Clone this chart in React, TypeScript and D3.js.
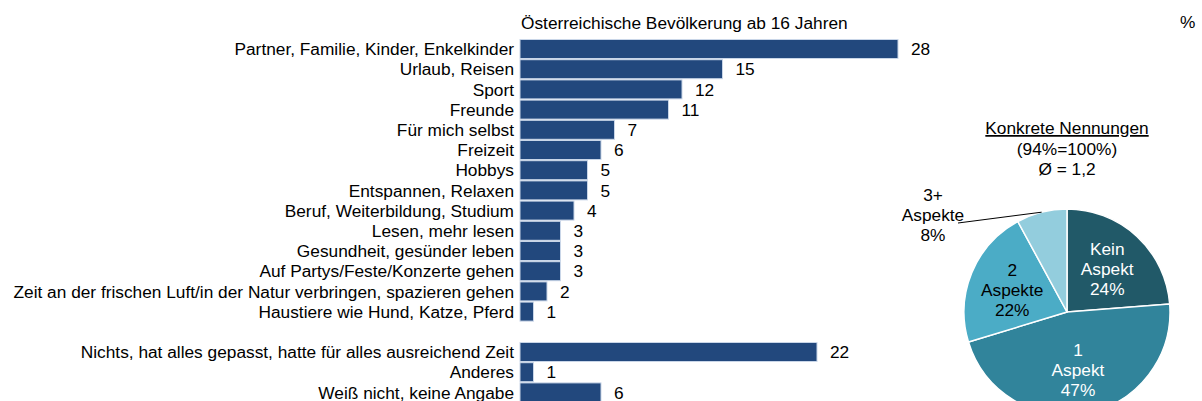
import React from "react";
import * as d3 from "d3";

const mainCategories = [
  "Partner, Familie, Kinder, Enkelkinder",
  "Urlaub, Reisen",
  "Sport",
  "Freunde",
  "Für mich selbst",
  "Freizeit",
  "Hobbys",
  "Entspannen, Relaxen",
  "Beruf, Weiterbildung, Studium",
  "Lesen, mehr lesen",
  "Gesundheit, gesünder leben",
  "Auf Partys/Feste/Konzerte gehen",
  "Zeit an der frischen Luft/in der Natur verbringen, spazieren gehen",
  "Haustiere wie Hund, Katze, Pferd",
];
const mainValues = [28, 15, 12, 11, 7, 6, 5, 5, 4, 3, 3, 3, 2, 1];

const otherCategories = [
  "Nichts, hat alles gepasst, hatte für alles ausreichend Zeit",
  "Anderes",
  "Weiß nicht, keine Angabe",
];
const otherValues = [22, 1, 6];

const pieLabels = [["Kein", "Aspekt"], ["1", "Aspekt"], ["2", "Aspekte"], ["3+", "Aspekte"]];
const pieValues = [24, 47, 22, 8];
const pieColors = ["#215968", "#31849B", "#4BACC6", "#93CDDD"];
const pieTextColors = ["#ffffff", "#ffffff", "#000000", "#000000"];

const title = "Österreichische Bevölkerung ab 16 Jahren";
const pieTitle = ["Konkrete Nennungen", "(94%=100%)", "Ø = 1,2"];

const FONT = "'Liberation Sans', Arial, sans-serif";
const FS = 17.3;

export default function App() {
  const W = 1202, H = 401;
  const GAP = "__gap__";
  const rows = [
    ...mainCategories.map((c, i) => ({ key: c, label: c, value: mainValues[i] })),
    { key: GAP, label: "", value: NaN },
    ...otherCategories.map((c, i) => ({ key: c, label: c, value: otherValues[i] })),
  ];
  const y = d3
    .scaleBand<string>()
    .domain(rows.map((r) => r.key))
    .range([38.9, 402.5])
    .paddingInner(0.06)
    .paddingOuter(0.03);
  const x = d3.scaleLinear().domain([0, 28]).range([520, 898]);

  const cx = 1067, cy = 312, R = 103;
  const pie = d3.pie<number>().sort(null).value((d) => d)(pieValues);
  const arc = d3.arc<d3.PieArcDatum<number>>().innerRadius(0).outerRadius(R);
  const labelArc = d3.arc<d3.PieArcDatum<number>>().innerRadius(0).outerRadius(R * 1.15);

  const last = pie[3];
  const mid = (last.startAngle + last.endAngle) / 2;
  const lineEnd = [cx + R * Math.sin(mid), cy - R * Math.cos(mid)];

  return (
    <svg
      width={W}
      height={H}
      style={{ position: "absolute", left: 0, top: 0, display: "block", background: "#fff" }}
      fontFamily={FONT}
      fontSize={FS}
    >
      <text x={521} y={29} fill="#000">{title}</text>
      <text x={1180} y={28} fill="#000">%</text>

      {rows.filter((r) => r.key !== GAP).map((r) => {
        const yy = y(r.key)!;
        const bw = y.bandwidth();
        return (
          <g key={r.key}>
            <text x={514} y={yy + bw / 2} dy="0.36em" textAnchor="end" fill="#000">{r.label}</text>
            <rect x={x(0)} y={yy} width={x(r.value) - x(0)} height={bw} fill="#22487D" stroke="#c9d6e8" strokeWidth={1} />
            <text x={x(r.value) + 13} y={yy + bw / 2} dy="0.36em" fill="#000">{r.value}</text>
          </g>
        );
      })}

      <g>
        {pieTitle.map((t, i) => (
          <text key={i} x={cx} y={134 + i * 20.5} textAnchor="middle" fill="#000" textDecoration={i === 0 ? "underline" : undefined}>{t}</text>
        ))}
        {pie.map((p, i) => (
          <path key={i} d={arc(p)!} transform={`translate(${cx},${cy})`} fill={pieColors[i]} stroke="#fff" strokeWidth={1.5} />
        ))}
        {pie.slice(0, 3).map((p, i) => {
          const [lx, ly] = labelArc.centroid(p);
          const lines = [...pieLabels[i], `${pieValues[i]}%`];
          return (
            <text key={i} textAnchor="middle" fill={pieTextColors[i]}>
              {lines.map((l, j) => (
                <tspan key={j} x={cx + lx} y={cy + ly + (j - 1) * 20} dy="0.36em">{l}</tspan>
              ))}
            </text>
          );
        })}
        <line x1={958} y1={223} x2={lineEnd[0]} y2={lineEnd[1]} stroke="#000" strokeWidth={1} />
        <text textAnchor="middle" fill="#000">
          {[...pieLabels[3], `${pieValues[3]}%`].map((l, j) => (
            <tspan key={j} x={933} y={215 + (j - 1) * 20} dy="0.36em">{l}</tspan>
          ))}
        </text>
      </g>
    </svg>
  );
}
